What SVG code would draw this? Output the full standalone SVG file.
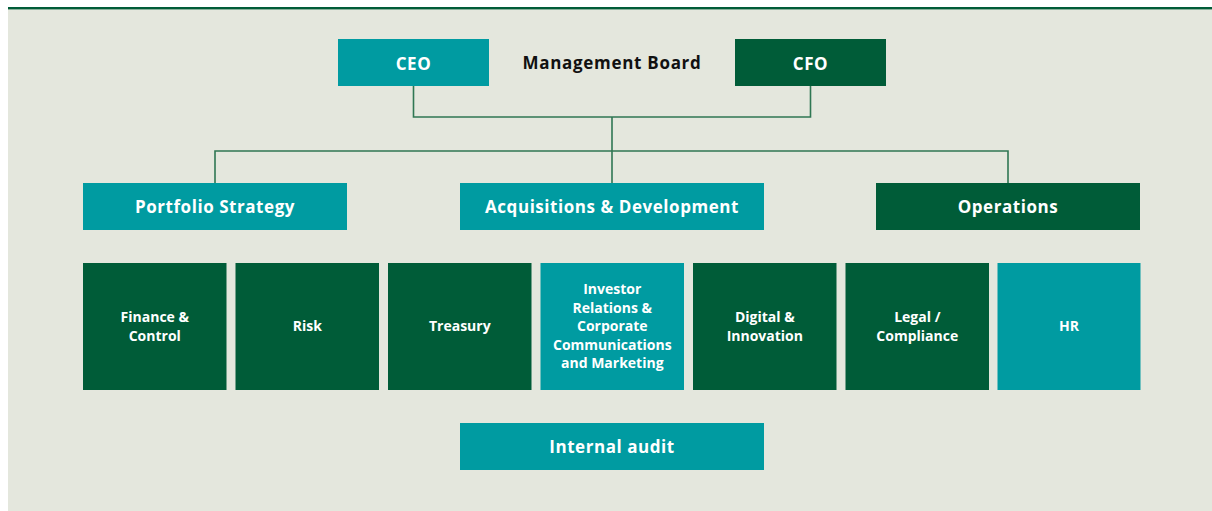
<svg xmlns="http://www.w3.org/2000/svg" width="1212" height="511" viewBox="0 0 1212 511">
<style>
.teal{fill:#009ba1}
.green{fill:#005c38}
.t{font-family:"Open Sans","Liberation Sans",sans-serif;font-weight:700;fill:#ffffff;text-anchor:middle}
.big{font-size:17px;letter-spacing:0.55px}
.small{font-size:14px}
.con{fill:none;stroke:#2f7753;stroke-width:1.6}
</style>
<rect x="0" y="0" width="1212" height="511" fill="#ffffff"/>
<rect x="8" y="9" width="1204" height="502" fill="#e4e7dd"/>
<rect x="8" y="7" width="1204" height="2.4" fill="#005c38"/>
<g id="connectors">
<path class="con" d="M413.5 86 V117 H810.5 V86"/>
<path class="con" d="M612 117 V183"/>
<path class="con" d="M215 183 V151 H1008 V183"/>
</g>
<g id="ceo"><rect class="teal" x="338" y="39" width="151" height="47"/><text class="t big" x="413.5" y="69.5">CEO</text></g>
<g id="board"><text x="612" y="69" font-family="'Open Sans','Liberation Sans',sans-serif" font-weight="700" font-size="17" fill="#111" text-anchor="middle" letter-spacing="0.7">Management Board</text></g>
<g id="cfo"><rect class="green" x="735" y="39" width="151" height="47"/><text class="t big" x="810.5" y="69.5">CFO</text></g>
<g id="portfolio"><rect class="teal" x="83" y="183" width="264" height="47"/><text class="t big" x="215" y="212.5">Portfolio Strategy</text></g>
<g id="acquisitions"><rect class="teal" x="460" y="183" width="304" height="47"/><text class="t big" x="612" y="212.5">Acquisitions &amp; Development</text></g>
<g id="operations"><rect class="green" x="876" y="183" width="264" height="47"/><text class="t big" x="1008" y="212.5">Operations</text></g>
<g id="finance"><rect class="green" x="83" y="263" width="143.5" height="127"/><text class="t small" x="154.8" y="322">Finance &amp;<tspan x="154.8" dy="18.5">Control</tspan></text></g>
<g id="risk"><rect class="green" x="235.5" y="263" width="143.5" height="127"/><text class="t small" x="307.3" y="331">Risk</text></g>
<g id="treasury"><rect class="green" x="388" y="263" width="143.5" height="127"/><text class="t small" x="459.8" y="331">Treasury</text></g>
<g id="investor"><rect class="teal" x="540.5" y="263" width="143.5" height="127"/><text class="t small" x="612.3" y="294">Investor<tspan x="612.3" dy="18.5">Relations &amp;</tspan><tspan x="612.3" dy="18.5">Corporate</tspan><tspan x="612.3" dy="18.5">Communications</tspan><tspan x="612.3" dy="18.5">and Marketing</tspan></text></g>
<g id="digital"><rect class="green" x="693" y="263" width="143.5" height="127"/><text class="t small" x="764.8" y="322">Digital &amp;<tspan x="764.8" dy="18.5">Innovation</tspan></text></g>
<g id="legal"><rect class="green" x="845.5" y="263" width="143.5" height="127"/><text class="t small" x="917.3" y="322">Legal /<tspan x="917.3" dy="18.5">Compliance</tspan></text></g>
<g id="hr"><rect class="teal" x="997.5" y="263" width="143" height="127"/><text class="t small" x="1069" y="331">HR</text></g>
<g id="audit"><rect class="teal" x="460" y="423" width="304" height="47"/><text class="t big" x="612" y="452.5">Internal audit</text></g>
</svg>
